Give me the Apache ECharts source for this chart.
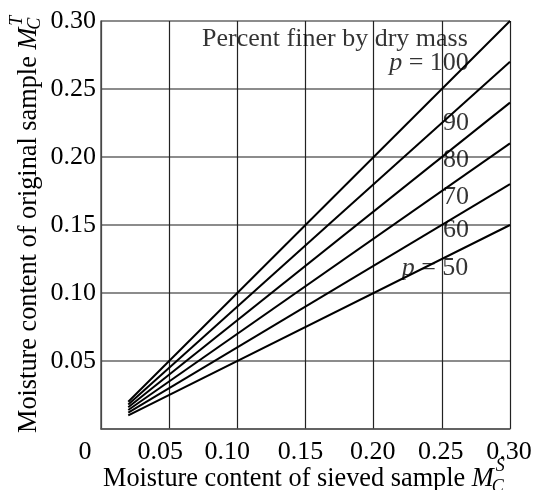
<!DOCTYPE html>
<html>
<head>
<meta charset="utf-8">
<script src="https://cdn.jsdelivr.net/npm/echarts@6/dist/echarts.min.js"></script>
<style>
  html, body { margin: 0; padding: 0; background: #fff; }
  #chart { width: 536px; height: 490px; }
</style>
</head>
<body>
<div id="chart"></div>
<script>
// percent finer by dry mass, one line per value
var percents = [100, 90, 80, 70, 60, 50];
// line start and end
var startX = 0.02;
var endX = 0.30;
var startY = [0.020, 0.018, 0.016, 0.014, 0.012, 0.010];
var endY = [0.30, 0.27, 0.24, 0.21, 0.18, 0.15];

// where the curve labels sit (data coordinates)
var labelText = ['Percent finer by dry mass', '{i|p} = 100', '90', '80', '70', '60', '{i|p} = 50'];
var labelX = [0.1716, 0.2406, 0.2604, 0.2604, 0.2604, 0.2604, 0.245];
var labelY = [0.2868, 0.2691, 0.225, 0.1978, 0.1706, 0.1463, 0.1184];

// the x tick labels sit a little left of their grid lines
var xLabelShift = { '0.05': 9, '0.10': 10, '0.15': 5, '0.20': 1, '0.25': 1, '0.30': 1 };

var FONT = '"Liberation Serif", "Times New Roman", serif';
var FS = 26;
var TITLE_FS = 26.3;

var ctx = document.createElement('canvas').getContext('2d');
function textWidth(str, style, size) {
    ctx.font = style + ' ' + size + 'px ' + FONT;
    return ctx.measureText(str).width;
}

var series = [];
percents.forEach(function (p, i) {
    series.push({
        name: 'p=' + p,
        type: 'line',
        data: [[startX, startY[i]], [endX, endY[i]]],
        symbol: 'none',
        silent: true,
        lineStyle: { color: '#000', width: 2 }
    });
});

series.push({
    type: 'scatter',
    symbolSize: 0,
    silent: true,
    data: labelX.map(function (x, i) { return [x, labelY[i], labelText[i]]; }),
    label: {
        show: true,
        position: 'inside',
        formatter: function (prm) { return prm.data[2]; },
        color: '#000',
        fontFamily: FONT,
        fontSize: FS,
        rich: {
            i: { fontStyle: 'italic', fontFamily: FONT, fontSize: FS, color: '#000' }
        }
    }
});

// axis titles with stacked sub/superscripts
function titleParts(main, sup, size, supOff, subOff) {
    var w = textWidth(main, 'normal', size);
    var mw = textWidth('M', 'italic', size);
    var small = Math.round(size * 0.7);
    return [
        { type: 'text', x: 0, y: 0, style: { text: main, font: size + 'px ' + FONT, fill: '#000', verticalAlign: 'middle' } },
        { type: 'text', x: w, y: 0, style: { text: 'M', font: 'italic ' + size + 'px ' + FONT, fill: '#000', verticalAlign: 'middle' } },
        { type: 'text', x: w + mw + 2, y: supOff, style: { text: sup, font: 'italic ' + small + 'px ' + FONT, fill: '#000', verticalAlign: 'middle' } },
        { type: 'text', x: w + mw - 2, y: subOff, style: { text: 'C', font: 'italic ' + small + 'px ' + FONT, fill: '#000', verticalAlign: 'middle' } }
    ];
}

var xRich = { z: { fontFamily: FONT, fontSize: FS, color: '#000', padding: [0, 32, 0, 0] } };
Object.keys(xLabelShift).forEach(function (k, i) {
    xRich['s' + i] = { fontFamily: FONT, fontSize: FS, color: '#000', padding: [0, xLabelShift[k] * 2, 0, 0] };
});

var chart = echarts.init(document.getElementById('chart'), null, { renderer: 'canvas' });

var option = {
    backgroundColor: '#fff',
    animation: false,
    grid: { left: 101, right: 26, top: 21, bottom: 61, outerBoundsMode: 'none', containLabel: false },
    xAxis: {
        type: 'value',
        min: 0, max: 0.30, interval: 0.05,
        axisLine: { show: true, lineStyle: { color: '#555', width: 1.5 } },
        axisTick: { show: false },
        splitLine: { show: true, lineStyle: { color: '#222', width: 1.2 } },
        axisLabel: {
            margin: 10,
            color: '#000',
            fontFamily: FONT,
            fontSize: FS,
            formatter: function (v) {
                if (v === 0) return '{z|0}';
                var s = v.toFixed(2);
                var idx = Object.keys(xLabelShift).indexOf(s);
                return idx >= 0 ? '{s' + idx + '|' + s + '}' : s;
            },
            rich: xRich
        }
    },
    yAxis: {
        type: 'value',
        min: 0, max: 0.30, interval: 0.05,
        axisLine: { show: true, lineStyle: { color: '#555', width: 1.5 } },
        axisTick: { show: false },
        splitLine: { show: true, lineStyle: { color: '#666', width: 1.5 } },
        axisLabel: {
            margin: 5,
            color: '#000',
            fontFamily: FONT,
            fontSize: FS,
            formatter: function (v) { return v === 0 ? '' : v.toFixed(2); }
        }
    },
    graphic: [
        { type: 'group', x: 103, y: 479, children: titleParts('Moisture content of sieved sample ', 'S', TITLE_FS, -13, 8) },
        { type: 'group', x: 29, y: 433, rotation: Math.PI / 2, children: titleParts('Moisture content of original sample ', 'T', TITLE_FS, -12, 6) }
    ],
    series: series
};

chart.setOption(option);
</script>
</body>
</html>
